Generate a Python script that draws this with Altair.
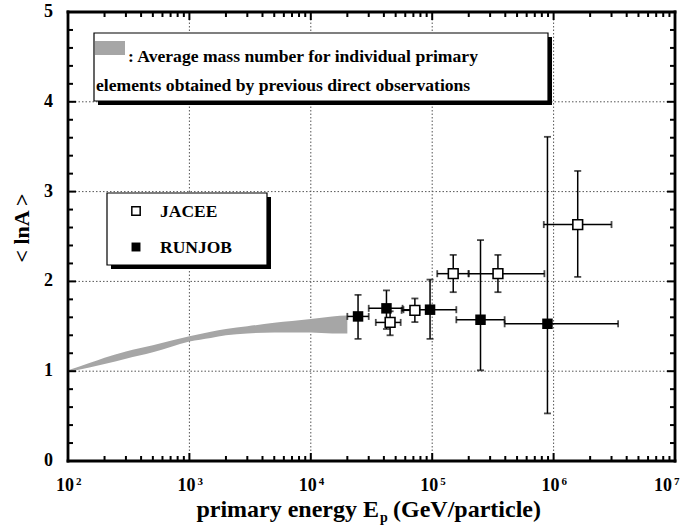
import altair as alt
import pandas as pd

W, H = 607, 449
FONT = "Liberation Serif"

# ---- data ----
band_e = [100, 150, 200, 300, 500, 700, 1000, 1500, 2000, 3000, 5000, 7000, 10000, 15000, 20000]
band_hi = [1.01, 1.09, 1.15, 1.22, 1.29, 1.34, 1.39, 1.44, 1.47, 1.50, 1.54, 1.56, 1.58, 1.61, 1.62]
band_lo = [0.99, 1.04, 1.08, 1.14, 1.21, 1.27, 1.33, 1.37, 1.40, 1.42, 1.43, 1.43, 1.43, 1.42, 1.42]

runjob_e = [2.45e4, 4.2e4, 9.6e4, 2.5e5, 8.9e5]
runjob_lnA = [1.61, 1.70, 1.685, 1.573, 1.528]
runjob_lo = [1.36, 1.47, 1.36, 1.01, 0.53]
runjob_hi = [1.85, 1.90, 2.02, 2.46, 3.61]
runjob_elo = [2.0e4, 3.0e4, 5.8e4, 1.58e5, 3.95e5]
runjob_ehi = [3.0e4, 5.7e4, 1.58e5, 3.95e5, 3.4e6]

jacee_e = [4.5e4, 7.2e4, 1.49e5, 3.48e5, 1.58e6]
jacee_lnA = [1.543, 1.678, 2.086, 2.086, 2.633]
jacee_lo = [1.40, 1.547, 1.88, 1.88, 2.05]
jacee_hi = [1.667, 1.81, 2.295, 2.295, 3.23]
jacee_elo = [3.43e4, 5.6e4, 1.1e5, 2.0e5, 8.3e5]
jacee_ehi = [5.5e4, 7.85e4, 1.99e5, 8.4e5, 3.0e6]

decades = [100, 1000, 10000, 100000, 1000000, 10000000]
exponents = ["2", "3", "4", "5", "6", "7"]
y_labels = [0, 1, 2, 3, 4, 5]

minor_x = [m * d for d in decades[:-1] for m in range(2, 10)]
minor_y = [i / 5 for i in range(1, 25) if i % 5 != 0]

xs = alt.Scale(type="log", domain=[100, 1e7], nice=False)
ys = alt.Scale(domain=[0, 5], nice=False, zero=False)

def X(f):
    return alt.X(f, scale=xs, axis=None)

def Y(f):
    return alt.Y(f, scale=ys, axis=None)

band_df = pd.DataFrame({"e": band_e, "hi": band_hi, "lo": band_lo})

def series_df(e, v, lo, hi, elo, ehi):
    return pd.DataFrame({"e": e, "v": v, "lo": lo, "hi": hi, "elo": elo, "ehi": ehi})

run_df = series_df(runjob_e, runjob_lnA, runjob_lo, runjob_hi, runjob_elo, runjob_ehi)
jac_df = series_df(jacee_e, jacee_lnA, jacee_lo, jacee_hi, jacee_elo, jacee_ehi)

# dotted grid
gx = alt.Chart(pd.DataFrame({"v": decades[1:-1]})).mark_rule(
    color="#555", strokeWidth=1, strokeDash=[1.5, 2]).encode(
    x=X("v:Q"), y=alt.value(0), y2=alt.value(H))
gy = alt.Chart(pd.DataFrame({"v": y_labels[1:-1]})).mark_rule(
    color="#555", strokeWidth=1, strokeDash=[1.5, 2]).encode(
    y=Y("v:Q"), x=alt.value(0), x2=alt.value(W))

band = alt.Chart(band_df).mark_area(color="#a6a6a6", opacity=1, interpolate="monotone").encode(
    x=X("e:Q"), y=Y("hi:Q"), y2="lo:Q")

def errbars(df):
    vr = alt.Chart(df).mark_rule(color="black", strokeWidth=1.5).encode(
        x=X("e:Q"), y=Y("lo:Q"), y2="hi:Q")
    hr = alt.Chart(df).mark_rule(color="black", strokeWidth=1.5).encode(
        x=X("elo:Q"), x2="ehi:Q", y=Y("v:Q"))
    caps = []
    for col in ["lo", "hi"]:
        caps.append(alt.Chart(df).mark_tick(orient="horizontal", color="black", size=7,
                                            thickness=1.8).encode(x=X("e:Q"), y=Y(f"{col}:Q")))
    for col in ["elo", "ehi"]:
        caps.append(alt.Chart(df).mark_tick(orient="vertical", color="black", size=7,
                                            thickness=1.8).encode(x=X(f"{col}:Q"), y=Y("v:Q")))
    return [vr, hr] + caps

run_pts = alt.Chart(run_df).mark_square(size=110, color="black", opacity=1).encode(
    x=X("e:Q"), y=Y("v:Q"))
jac_pts = alt.Chart(jac_df).mark_square(size=95, filled=True, fill="white", stroke="black",
                                        strokeWidth=1.6, opacity=1).encode(
    x=X("e:Q"), y=Y("v:Q"))

# inward ticks on all four sides
def xticks(vals, length):
    df = pd.DataFrame({"v": vals})
    b = alt.Chart(df).mark_rule(color="black", strokeWidth=2).encode(
        x=X("v:Q"), y=alt.value(H), y2=alt.value(H - length))
    t = alt.Chart(df).mark_rule(color="black", strokeWidth=2).encode(
        x=X("v:Q"), y=alt.value(0), y2=alt.value(length))
    return [b, t]

def yticks(vals, length):
    df = pd.DataFrame({"v": vals})
    l = alt.Chart(df).mark_rule(color="black", strokeWidth=2).encode(
        y=Y("v:Q"), x=alt.value(0), x2=alt.value(length))
    r = alt.Chart(df).mark_rule(color="black", strokeWidth=2).encode(
        y=Y("v:Q"), x=alt.value(W), x2=alt.value(W - length))
    return [l, r]

ticks = xticks(decades, 8) + xticks(minor_x, 5) + yticks(y_labels, 8) + yticks(minor_y, 5)

# y tick labels
ylab = alt.Chart(pd.DataFrame({"v": y_labels})).mark_text(
    font=FONT, fontWeight="bold", fontSize=18, align="right", baseline="middle",
    color="black").encode(y=Y("v:Q"), x=alt.value(-15), text=alt.Text("v:Q", format="d"))

# x tick labels 10^n
dec_df = pd.DataFrame({"v": decades, "base": ["10"] * len(decades), "exp": exponents})
def xlabels(df, shift):
    b = alt.Chart(df).mark_text(font=FONT, fontWeight="bold", fontSize=18, align="center",
                                baseline="alphabetic", dx=-3 + shift, color="black").encode(
        x=X("v:Q"), y=alt.value(H + 30), text="base:N")
    e = alt.Chart(df).mark_text(font=FONT, fontWeight="bold", fontSize=11, align="left",
                                baseline="alphabetic", dx=8 + shift, color="black").encode(
        x=X("v:Q"), y=alt.value(H + 24), text="exp:N")
    return [b, e]
xl = xlabels(dec_df.iloc[:-1], 0) + xlabels(dec_df.iloc[-1:], -9)

# titles
title_df = pd.DataFrame({"a": ["primary energy E"], "b": ["p"], "c": ["(GeV/particle)"],
                         "y": ["< lnA >"]})
t1 = alt.Chart(title_df).mark_text(font=FONT, fontWeight="bold", fontSize=24, align="right",
                                   baseline="alphabetic", color="black").encode(
    x=alt.value(311), y=alt.value(505), text="a:N")
t2 = alt.Chart(title_df).mark_text(font=FONT, fontWeight="bold", fontSize=14, align="left",
                                   baseline="alphabetic", color="black").encode(
    x=alt.value(312), y=alt.value(510), text="b:N")
t3 = alt.Chart(title_df).mark_text(font=FONT, fontWeight="bold", fontSize=24, align="left",
                                   baseline="alphabetic", color="black").encode(
    x=alt.value(325), y=alt.value(505), text="c:N")
t4 = alt.Chart(title_df).mark_text(font=FONT, fontWeight="bold", fontSize=22, align="center",
                                   baseline="alphabetic", angle=270, color="black").encode(
    x=alt.value(-39), y=alt.value(216), text="y:N")

# annotation boxes
def box(x1, y1, x2, y2):
    d = pd.DataFrame({"k": [0]})
    sh = alt.Chart(d).mark_rect(color="black").encode(
        x=alt.value(x1 + 4), x2=alt.value(x2 + 4), y=alt.value(y1 + 4), y2=alt.value(y2 + 4))
    fr = alt.Chart(d).mark_rect(fill="white", stroke="black", strokeWidth=1.2).encode(
        x=alt.value(x1), x2=alt.value(x2), y=alt.value(y1), y2=alt.value(y2))
    return [sh, fr]

note_df = pd.DataFrame({"l1": [": Average mass number for individual primary"],
                        "l2": ["elements obtained by previous direct observations"],
                        "j": ["JACEE"], "r": ["RUNJOB"]})
swatch = alt.Chart(note_df).mark_rect(color="#a6a6a6").encode(
    x=alt.value(27), x2=alt.value(57), y=alt.value(29), y2=alt.value(43))
n1 = alt.Chart(note_df).mark_text(font=FONT, fontWeight="bold", fontSize=17.6, align="left",
                                  baseline="middle", color="black").encode(
    x=alt.value(60), y=alt.value(45), text="l1:N")
n2 = alt.Chart(note_df).mark_text(font=FONT, fontWeight="bold", fontSize=17.6, align="left",
                                  baseline="middle", color="black").encode(
    x=alt.value(28), y=alt.value(74), text="l2:N")
lj_sym = alt.Chart(note_df).mark_square(size=70, filled=True, fill="white", stroke="black",
                                        strokeWidth=1.5, opacity=1).encode(
    x=alt.value(68), y=alt.value(199))
lr_sym = alt.Chart(note_df).mark_square(size=80, color="black", opacity=1).encode(
    x=alt.value(68), y=alt.value(235))
lj = alt.Chart(note_df).mark_text(font=FONT, fontWeight="bold", fontSize=17.5, align="left",
                                  baseline="middle", color="black").encode(
    x=alt.value(92), y=alt.value(200), text="j:N")
lr = alt.Chart(note_df).mark_text(font=FONT, fontWeight="bold", fontSize=17.5, align="left",
                                  baseline="middle", color="black").encode(
    x=alt.value(92), y=alt.value(236), text="r:N")

# plot frame from four rules
fd = pd.DataFrame({"k": [0]})
fr_style = dict(color="black", strokeWidth=2.8, strokeCap="square")
frame = [
    alt.Chart(fd).mark_rule(**fr_style).encode(x=alt.value(0), x2=alt.value(W), y=alt.value(0)),
    alt.Chart(fd).mark_rule(**fr_style).encode(x=alt.value(0), x2=alt.value(W), y=alt.value(H)),
    alt.Chart(fd).mark_rule(**fr_style).encode(x=alt.value(0), y=alt.value(0), y2=alt.value(H)),
    alt.Chart(fd).mark_rule(**fr_style).encode(x=alt.value(W), y=alt.value(0), y2=alt.value(H)),
]

layers = ([gx, gy, band] + errbars(run_df) + errbars(jac_df) + [run_pts, jac_pts] + ticks
          + [ylab] + xl + [t1, t2, t3, t4]
          + box(26, 21, 480, 89) + [swatch, n1, n2]
          + box(39, 181, 199, 253) + [lj_sym, lr_sym, lj, lr] + frame)

chart = alt.layer(*layers).properties(
    width=W, height=H, autosize="none",
    padding={"left": 68, "top": 12, "right": 10, "bottom": 69},
).configure(background="white").configure_view(stroke=None)

chart.save("out.html", embed_options={"renderer": "svg", "actions": False})
